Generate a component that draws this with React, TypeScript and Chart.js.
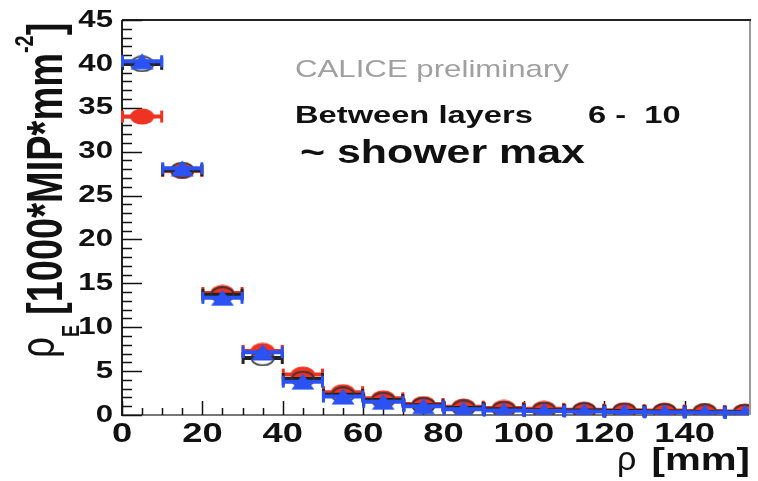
import React, { useEffect, useRef } from "react";
import { Chart, registerables } from "chart.js";

Chart.register(...registerables);

// ---- data ----
const rhoBins = [5, 15, 25, 35, 45, 55, 65, 75, 85, 95, 105, 115, 125, 135, 145, 155];
const BIN_HALF_WIDTH = 5;
const redValues = [34.0, 27.8, 13.9, 7.3, 4.6, 2.6, 1.9, 1.25, 0.95, 0.8, 0.7, 0.6, 0.55, 0.5, 0.45, 0.4];
const blackValues = [40.0, 27.9, 13.7, 6.5, 4.1, 2.3, 1.7, 1.1, 0.8, 0.65, 0.55, 0.5, 0.45, 0.4, 0.35, 0.3];
const blueValues = [40.3, 28.1, 13.35, 7.15, 3.8, 2.1, 1.5, 1.0, 0.65, 0.5, 0.45, 0.4, 0.35, 0.3, 0.28, 0.25];

const xTickValues = [0, 20, 40, 60, 80, 100, 120, 140];
const yTickValues = [0, 5, 10, 15, 20, 25, 30, 35, 40, 45];
const X_MINOR_STEP = 5;
const Y_MINOR_STEP = 1;
const X_MIN = 0;
const X_MAX = 156;
const Y_MIN = 0;
const Y_MAX = 45;

const annotationLines = ["CALICE preliminary", "Between layers", "6 -  10", "~ shower max"];

const RED = "#ee3322";
const BLUE = "#2a52f5";
const BLACK = "#222222";
const FAMILY = '"Liberation Sans", Arial, Helvetica, sans-serif';
const SX = 1.3;

const f = (w: string, s: number) => `${w} ${s}px ${FAMILY}`;

function makeEllipse(fill: string | null, stroke: string | null) {
  const c = document.createElement("canvas");
  c.width = 25;
  c.height = 17;
  const g = c.getContext("2d")!;
  g.beginPath();
  g.ellipse(12.5, 8.5, stroke ? 11.2 : 12, stroke ? 7.4 : 8, 0, 0, Math.PI * 2);
  if (fill) {
    g.fillStyle = fill;
    g.fill();
  }
  if (stroke) {
    g.lineWidth = 1.6;
    g.strokeStyle = stroke;
    g.stroke();
  }
  return c;
}

function makeTriangle(fill: string) {
  const c = document.createElement("canvas");
  c.width = 24;
  c.height = 17;
  const g = c.getContext("2d")!;
  g.beginPath();
  g.moveTo(12, 0.5);
  g.lineTo(23.5, 16.5);
  g.lineTo(0.5, 16.5);
  g.closePath();
  g.fillStyle = fill;
  g.fill();
  return c;
}

function stretchText(
  ctx: CanvasRenderingContext2D,
  text: string,
  x: number,
  y: number,
  font: string,
  color: string,
  align: "left" | "right" | "center",
  baseline: CanvasTextBaseline,
  sx = SX
) {
  ctx.save();
  ctx.font = font;
  ctx.fillStyle = color;
  ctx.textAlign = "left";
  ctx.textBaseline = baseline;
  const w = ctx.measureText(text).width * sx;
  const left = align === "right" ? x - w : align === "center" ? x - w / 2 : x;
  ctx.translate(left, y);
  ctx.scale(sx, 1);
  ctx.fillText(text, 0, 0);
  ctx.restore();
}

const errorBarPlugin = {
  id: "xErrorBars",
  beforeDatasetDraw(chart: any, args: any) {
    const ds = chart.data.datasets[args.index];
    const { ctx, chartArea: a, scales } = chart;
    const xs = scales.x;
    const ys = scales.y;
    ctx.save();
    ctx.beginPath();
    ctx.rect(a.left - 2, a.top, a.right - a.left + 2, a.bottom - a.top + 8);
    ctx.clip();
    ctx.strokeStyle = ds.barColor;
    ctx.fillStyle = ds.barColor;
    ctx.lineWidth = 4;
    ds.data.forEach((p: any) => {
      const x1 = xs.getPixelForValue(p.x - BIN_HALF_WIDTH);
      const x2 = xs.getPixelForValue(p.x + BIN_HALF_WIDTH);
      const py = ys.getPixelForValue(p.y);
      ctx.beginPath();
      ctx.moveTo(x1, py);
      ctx.lineTo(x2, py);
      ctx.stroke();
      ctx.fillRect(x1 - 1, py - 6, 3, 12);
      ctx.fillRect(x2 - 2, py - 6, 3, 12);
    });
    ctx.restore();
  },
};

const framePlugin = {
  id: "rootFrame",
  beforeDatasetsDraw(chart: any) {
    const { ctx, chartArea: a, scales } = chart;
    const xs = scales.x;
    const ys = scales.y;
    const line = (x1: number, y1: number, x2: number, y2: number) => {
      ctx.beginPath();
      ctx.moveTo(x1, y1);
      ctx.lineTo(x2, y2);
      ctx.stroke();
    };
    ctx.save();
    ctx.lineWidth = 2;
    ctx.strokeStyle = "#9a9a9a";
    line(a.right + 1, a.top, a.right + 1, a.bottom);
    ctx.strokeStyle = "#777";
    line(a.left, a.bottom, a.right, a.bottom);
    ctx.strokeStyle = "#222";
    line(a.left, a.top, a.right + 2, a.top);
    line(a.left, a.top, a.left, a.bottom + 1);
    ctx.lineWidth = 1.5;
    ctx.strokeStyle = "#111";
    for (let v = Y_MIN; v <= Y_MAX + 1e-9; v += Y_MINOR_STEP) {
      const py = Math.round(ys.getPixelForValue(v)) + 0.5;
      const major = yTickValues.includes(v);
      line(a.left, py, a.left + (major ? 20 : 10), py);
    }
    for (let v = X_MIN; v <= X_MAX + 1e-9; v += X_MINOR_STEP) {
      const px = Math.round(xs.getPixelForValue(v)) + 0.5;
      const major = xTickValues.includes(v);
      line(px, a.bottom, px, a.bottom - (major ? 14 : 7));
    }
    ctx.restore();
  },
  afterDraw(chart: any) {
    const { ctx, scales } = chart;
    const xs = scales.x;
    const ys = scales.y;
    // tick labels
    yTickValues.forEach((v) => {
      stretchText(ctx, String(v), 113, ys.getPixelForValue(v), f("bold", 24), "#111", "right", "middle");
    });
    xTickValues.forEach((v) => {
      stretchText(ctx, String(v), xs.getPixelForValue(v), 434, f("bold", 28), "#111", "center", "middle");
    });
    // x title
    stretchText(ctx, "[mm]", 750, 470, f("bold", 31), "#111", "right", "alphabetic");
    stretchText(ctx, "ρ", 617, 470, f("normal", 34), "#111", "left", "alphabetic", 1.0);
    // y title (rotated, reads bottom to top)
    ctx.save();
    ctx.translate(62, 358);
    ctx.scale(SX, 1);
    ctx.rotate(-Math.PI / 2);
    ctx.fillStyle = "#111";
    ctx.textAlign = "left";
    ctx.textBaseline = "alphabetic";
    const runs = [
      { text: "ρ", font: f("normal", 37), dy: -6, gap: 0 },
      { text: "E", font: f("bold", 18), dy: 13, gap: 10 },
      { text: "[1000*MIP*mm", font: f("bold", 38), dy: 0, gap: 0 },
      { text: "-2", font: f("bold", 20), dy: -22, gap: 0 },
      { text: "]", font: f("bold", 38), dy: 0, gap: 0 },
    ];
    let cx = 0;
    runs.forEach((r) => {
      ctx.font = r.font;
      ctx.fillText(r.text, cx, r.dy);
      cx += ctx.measureText(r.text).width + r.gap;
    });
    ctx.restore();
    // annotations
    stretchText(ctx, annotationLines[0], 295, 77, f("normal", 24), "#a0a0a0", "left", "alphabetic");
    stretchText(ctx, annotationLines[1], 295, 123, f("bold", 23), "#111", "left", "alphabetic", 1.42);
    stretchText(ctx, annotationLines[2], 588, 123, f("bold", 23), "#111", "left", "alphabetic", 1.42);
    stretchText(ctx, annotationLines[3], 300, 163, f("bold", 33), "#111", "left", "alphabetic");
  },
};

export default function App() {
  const ref = useRef<HTMLCanvasElement>(null);
  useEffect(() => {
    const redImg = makeEllipse(RED, null);
    const blackImg = makeEllipse(null, "#333");
    const blueImg = makeTriangle(BLUE);
    const toPts = (vals: number[]) => rhoBins.map((x, i) => ({ x, y: vals[i] }));
    const chart = new Chart(ref.current as HTMLCanvasElement, {
      type: "scatter",
      data: {
        datasets: [
          { label: "blue", data: toPts(blueValues), pointStyle: blueImg, pointRadius: 8, barColor: BLUE } as any,
          { label: "black", data: toPts(blackValues), pointStyle: blackImg, pointRadius: 8, barColor: BLACK } as any,
          { label: "red", data: toPts(redValues), pointStyle: redImg, pointRadius: 8, barColor: RED } as any,
        ],
      },
      options: {
        responsive: false,
        animation: false,
        events: [],
        layout: { padding: { left: 0, top: 20, right: 7, bottom: 0 } },
        plugins: { legend: { display: false }, tooltip: { enabled: false } },
        scales: {
          x: {
            type: "linear",
            min: X_MIN,
            max: X_MAX,
            ticks: { display: false },
            grid: { display: false },
            border: { display: false },
            afterFit: (s: any) => {
              s.height = 66;
            },
          },
          y: {
            type: "linear",
            min: Y_MIN,
            max: Y_MAX,
            ticks: { display: false },
            grid: { display: false },
            border: { display: false },
            afterFit: (s: any) => {
              s.width = 122;
            },
          },
        },
      },
      plugins: [framePlugin, errorBarPlugin],
    });
    return () => chart.destroy();
  }, []);
  return (
    <div style={{ position: "fixed", left: 0, top: 0, width: 758, height: 481, background: "#fff" }}>
      <canvas ref={ref} width={758} height={481} style={{ display: "block" }} />
    </div>
  );
}
